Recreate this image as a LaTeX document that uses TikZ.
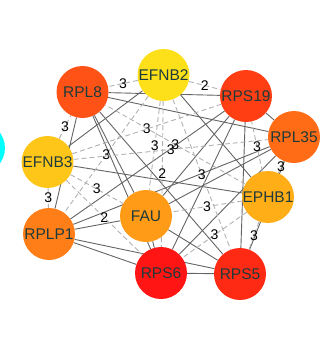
\documentclass[tikz,border=0pt]{standalone}
\usepackage{fontspec}
\setmainfont{Liberation Sans}
\pgfdeclarelayer{bg}
\pgfsetlayers{bg,main}
\definecolor{txt}{RGB}{30,58,58}
\definecolor{cCyan}{RGB}{0,255,255}
\definecolor{cRPLeight}{RGB}{255,82,22}
\definecolor{cEFNBtwo}{RGB}{253,224,26}
\definecolor{cRPSnineteen}{RGB}{255,62,20}
\definecolor{cRPLthirtyfive}{RGB}{255,108,21}
\definecolor{cEFNBthree}{RGB}{255,198,26}
\definecolor{cEPHBone}{RGB}{255,174,23}
\definecolor{cFAU}{RGB}{255,155,23}
\definecolor{cRPLPone}{RGB}{255,126,23}
\definecolor{cRPSsix}{RGB}{255,22,20}
\definecolor{cRPSfive}{RGB}{255,42,20}
\definecolor{solidedge}{RGB}{100,100,100}
\definecolor{dashedge}{RGB}{178,178,178}
\begin{document}
\begin{tikzpicture}[x=1pt,y=-1pt,
  gene/.style={circle,minimum size=52pt,inner sep=0pt,text=txt,
    font=\fontsize{15.5}{15.5}\selectfont},
  strong/.style={draw=solidedge,line width=0.9pt},
  weak/.style={draw=dashedge,line width=0.9pt,dash pattern=on 5pt off 3pt},
  lbl/.style={font=\fontsize{14}{14}\selectfont,text=black,inner sep=0pt}]
\useasboundingbox (0,0) rectangle (320,346);
\clip (0,0) rectangle (320,346);
\node[gene,fill=cCyan] (k) at (-21,148) {};
\node[gene,fill=cRPLeight] (a) at (82.5,92) {RPL8};
\node[gene,fill=cEFNBtwo] (b) at (163.5,75) {EFNB2};
\node[gene,fill=cRPSnineteen] (c) at (246,96) {RPS19};
\node[gene,fill=cRPLthirtyfive] (d) at (294,137) {RPL35};
\node[gene,fill=cEFNBthree] (e) at (47.5,162) {EFNB3};
\node[gene,fill=cEPHBone] (f) at (268,197) {EPHB1};
\node[gene,fill=cFAU] (g) at (146,216) {FAU};
\node[gene,fill=cRPLPone] (h) at (49,234) {RPLP1};
\node[gene,fill=cRPSsix] (i) at (161,273) {RPS6};
\node[gene,fill=cRPSfive] (j) at (240,274) {RPS5};
\begin{pgfonlayer}{bg}
% solid edges
\foreach \u/\v in {a/c,a/d,a/g,a/h,a/i,a/j,c/d,c/g,c/h,c/i,c/j,d/g,d/h,d/i,d/j,g/h,g/i,g/j,h/i,h/j,i/j,b/e,b/f,e/f}
  \draw[strong] (\u) -- (\v);
% dashed labelled edges
\foreach \u/\v/\w in {b/a/3,b/c/2,b/g/3,b/h/3,b/i/2,b/j/3,
                      e/a/3,e/c/3,e/d/3,e/g/3,e/h/3,e/i/2,
                      f/a/3,f/c/3,f/d/3,f/g/3,f/i/3,f/j/3}
  \draw[weak] (\u) -- node[lbl,midway] {\w} (\v);
\end{pgfonlayer}
\end{tikzpicture}
\end{document}
